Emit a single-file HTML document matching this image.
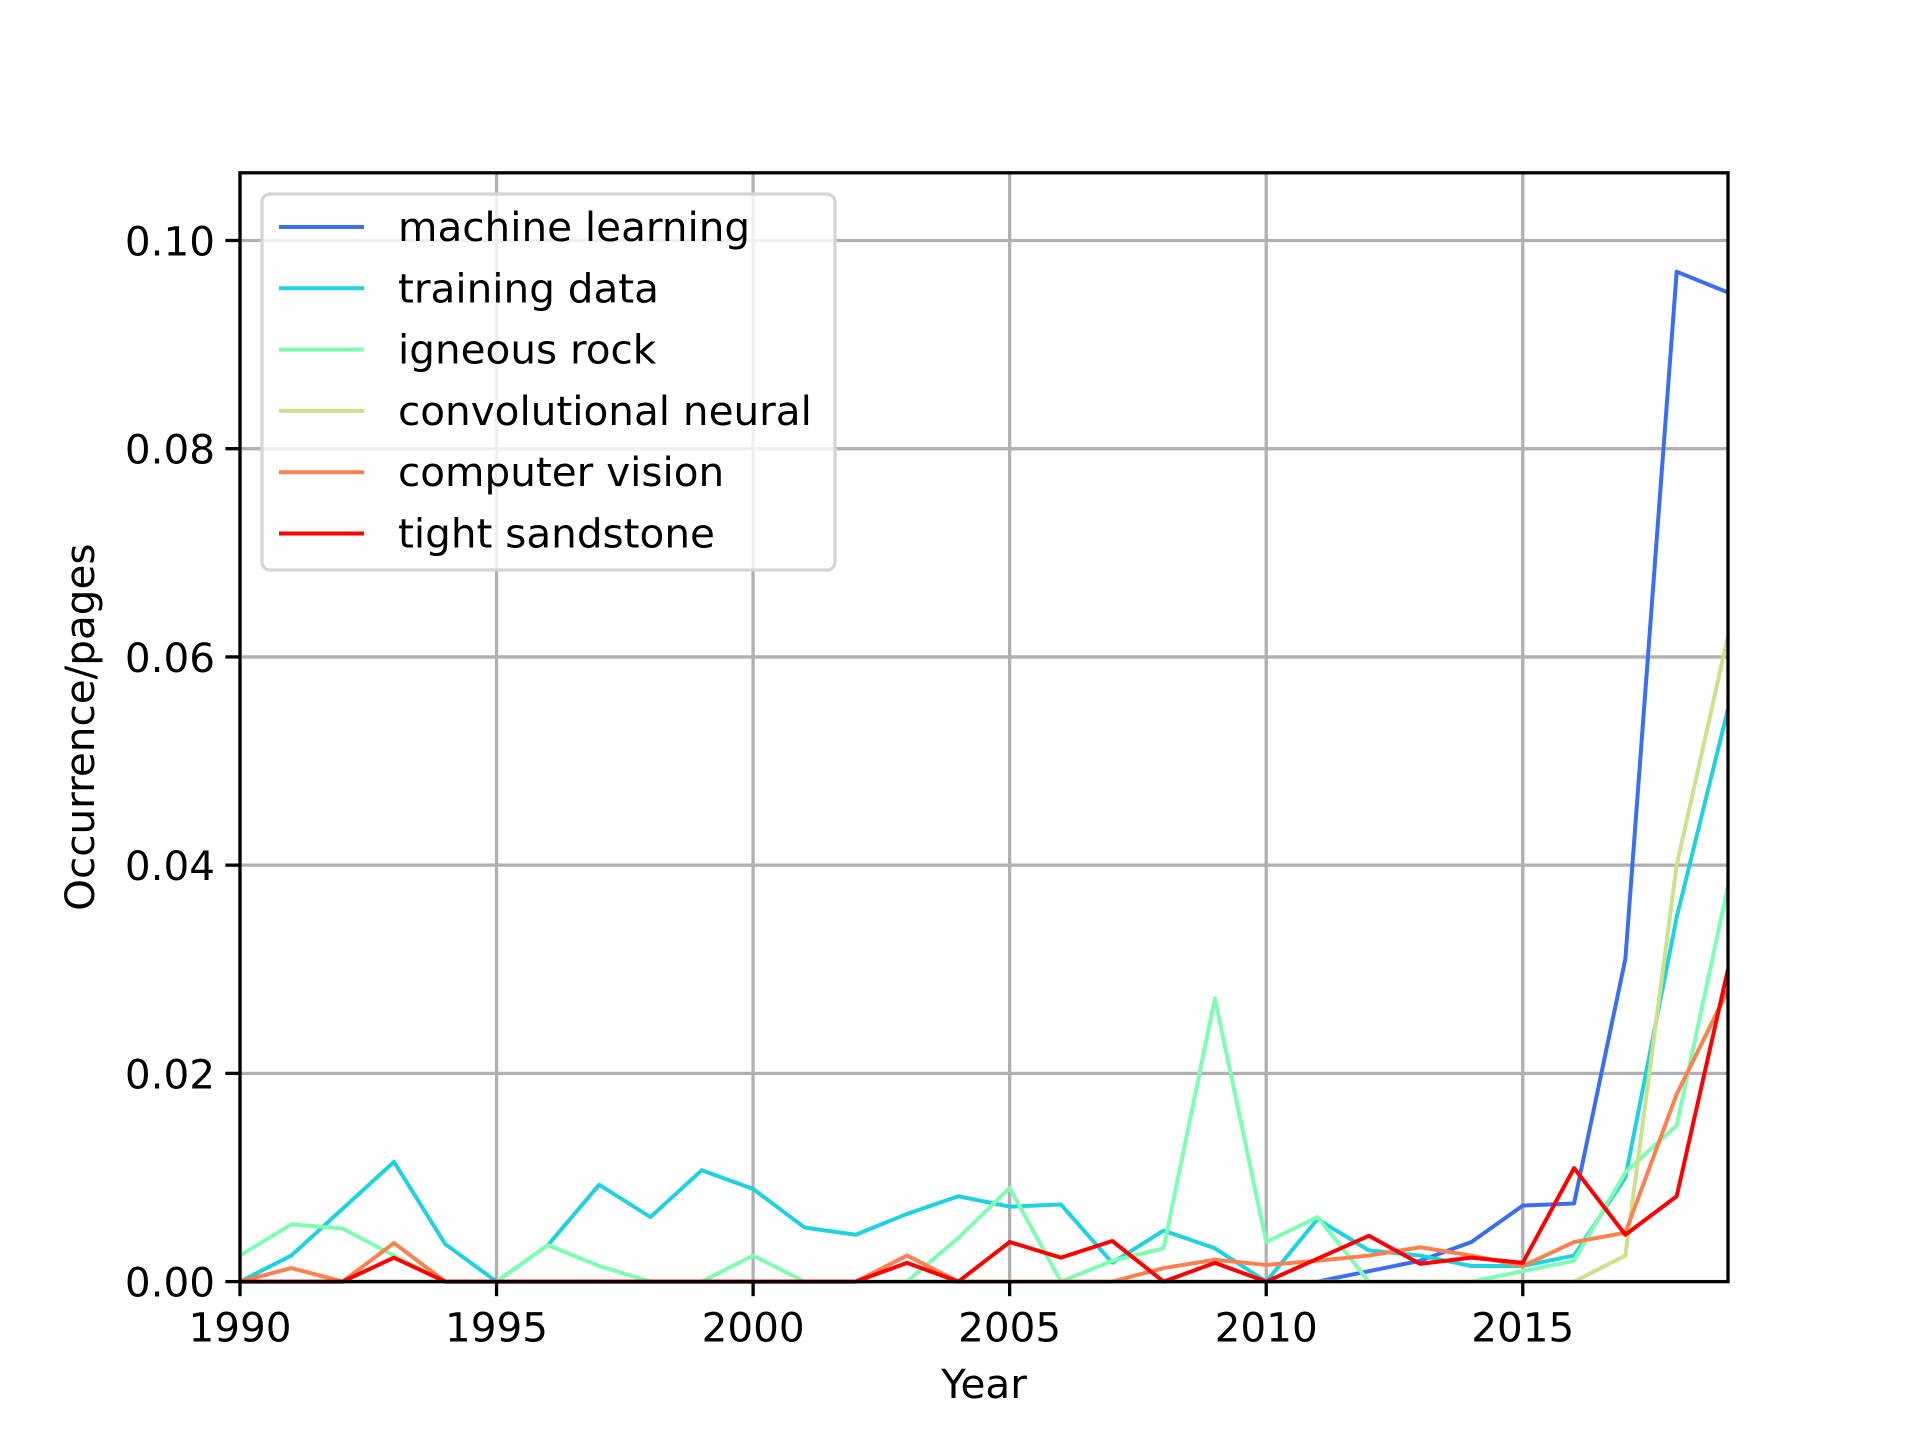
<!DOCTYPE html>
<html><head><meta charset="utf-8"><style>body{margin:0;background:#fff}svg{display:block;font-family:"DejaVu Sans","Liberation Sans",sans-serif}</style></head>
<body>
<svg id="chart" width="1920" height="1440" viewBox="0 0 1920 1440" xmlns="http://www.w3.org/2000/svg">
<rect width="1920" height="1440" fill="#fff"/>
<g id="grid"></g><g id="series"></g><g id="axes"></g><g id="legend"></g>
</svg>
<script>
const years=[1990,1991,1992,1993,1994,1995,1996,1997,1998,1999,2000,2001,2002,2003,2004,2005,2006,2007,2008,2009,2010,2011,2012,2013,2014,2015,2016,2017,2018,2019];
const seriesNames=["machine learning","training data","igneous rock","convolutional neural","computer vision","tight sandstone"];
const seriesColors=["#3a6ff4","#1ed2e0","#7ffdb2","#cbe18c","#ff804f","#ff0000"];
const machineLearning=[0,0,0,0,0,0,0,0,0,0,0,0,0,0,0,0,0,0,0,0,0,0,0.001,0.002,0.0038,0.0073,0.0075,0.031,0.097,0.095];
const trainingData=[0,0.0025,0.007,0.0115,0.0036,0,0.0035,0.0093,0.0062,0.0107,0.0089,0.0052,0.0045,0.0065,0.0082,0.0072,0.0074,0.0018,0.0049,0.0032,0,0.006,0.003,0.0025,0.0015,0.0015,0.0025,0.01,0.035,0.055];
const igneousRock=[0.0025,0.0055,0.0051,0.0025,0,0,0.0035,0.0015,0,0,0.0025,0,0,0,0.0042,0.009,0,0.002,0.0032,0.0272,0.0038,0.0062,0,0,0,0.001,0.002,0.0105,0.015,0.038];
const convolutionalNeural=[0,0,0,0,0,0,0,0,0,0,0,0,0,0,0,0,0,0,0,0,0,0,0,0,0,0,0,0.0025,0.04,0.062];
const computerVision=[0,0.0013,0,0.0037,0,0,0,0,0,0,0,0,0,0.0025,0,0,0,0,0.0013,0.0021,0.0016,0.002,0.0025,0.0033,0.0025,0.0015,0.0038,0.0047,0.018,0.028];
const tightSandstone=[0,0,0,0.0023,0,0,0,0,0,0,0,0,0,0.0018,0,0.0038,0.0023,0.0039,0,0.0018,0,0.0022,0.0044,0.0017,0.0023,0.0018,0.0109,0.0045,0.0082,0.03];
const xTicks=[1990,1995,2000,2005,2010,2015];
const yTicks=[0,0.02,0.04,0.06,0.08,0.10];
const yTickLabels=["0.00","0.02","0.04","0.06","0.08","0.10"];
const allSeries=[machineLearning,trainingData,igneousRock,convolutionalNeural,computerVision,tightSandstone];

const L=240,R=1728,T=172.8,B=1281.6,X0=1990,X1=2019,Y0=0,Y1=0.1065;
const FS=40.5;
const xs=v=>L+(v-X0)/(X1-X0)*(R-L);
const ys=v=>B-(v-Y0)/(Y1-Y0)*(B-T);
const NS="http://www.w3.org/2000/svg";
function mk(tag,parent,attrs,text){const e=document.createElementNS(NS,tag);for(const k in attrs)e.setAttribute(k,attrs[k]);if(text!==undefined)e.textContent=text;parent.appendChild(e);return e;}
const grid=document.getElementById('grid'),ser=document.getElementById('series'),ax=document.getElementById('axes'),leg=document.getElementById('legend');
xTicks.forEach(t=>{const g=mk('line',grid,{x1:xs(t),x2:xs(t),y1:T,y2:B,stroke:'#b0b0b0','stroke-width':3.3});

const tk=mk('line',ax,{x1:xs(t),x2:xs(t),y1:B,y2:B+14.6,stroke:'#000','stroke-width':3.3});

const lb=mk('text',ax,{x:xs(t),y:B+60,'font-size':FS,'text-anchor':'middle',fill:'#000'},String(t));
});
yTicks.forEach((t,i)=>{const g=mk('line',grid,{x1:L,x2:R,y1:ys(t),y2:ys(t),stroke:'#b0b0b0','stroke-width':3.3});

const tk=mk('line',ax,{x1:L-14.6,x2:L,y1:ys(t),y2:ys(t),stroke:'#000','stroke-width':3.3});

const lb=mk('text',ax,{x:L-25,y:ys(t)+15,'font-size':FS,'text-anchor':'end',fill:'#000'},yTickLabels[i]);
});
allSeries.forEach((d,i)=>{const p=mk('polyline',ser,{points:d.map((v,j)=>xs(years[j])+','+ys(v)).join(' '),fill:'none',stroke:seriesColors[i],'stroke-width':4,'stroke-linejoin':'round'});
});
const fr=mk('rect',ax,{x:L,y:T,width:R-L,height:B-T,fill:'none',stroke:'#000','stroke-width':3.3});

const xl=mk('text',ax,{x:(L+R)/2,y:1398,'font-size':FS,'text-anchor':'middle'},'Year');

const yl=mk('text',ax,{x:0,y:0,'font-size':FS,'text-anchor':'middle',transform:'translate(94,'+((T+B)/2)+') rotate(-90)'},'Occurrence/pages');

const lbox=mk('rect',leg,{x:262,y:194,width:573,height:376,rx:8,fill:'#fff','fill-opacity':0.8,stroke:'#d5d5d5','stroke-width':3.3});

seriesNames.forEach((n,i)=>{const y=227+i*61.3;
const g=mk('g',leg,{});
mk('line',g,{x1:279,x2:364,y1:y,y2:y,stroke:seriesColors[i],'stroke-width':4});
mk('text',g,{x:398,y:y+14,'font-size':FS,fill:'#000'},n);});
</script>
</body></html>
